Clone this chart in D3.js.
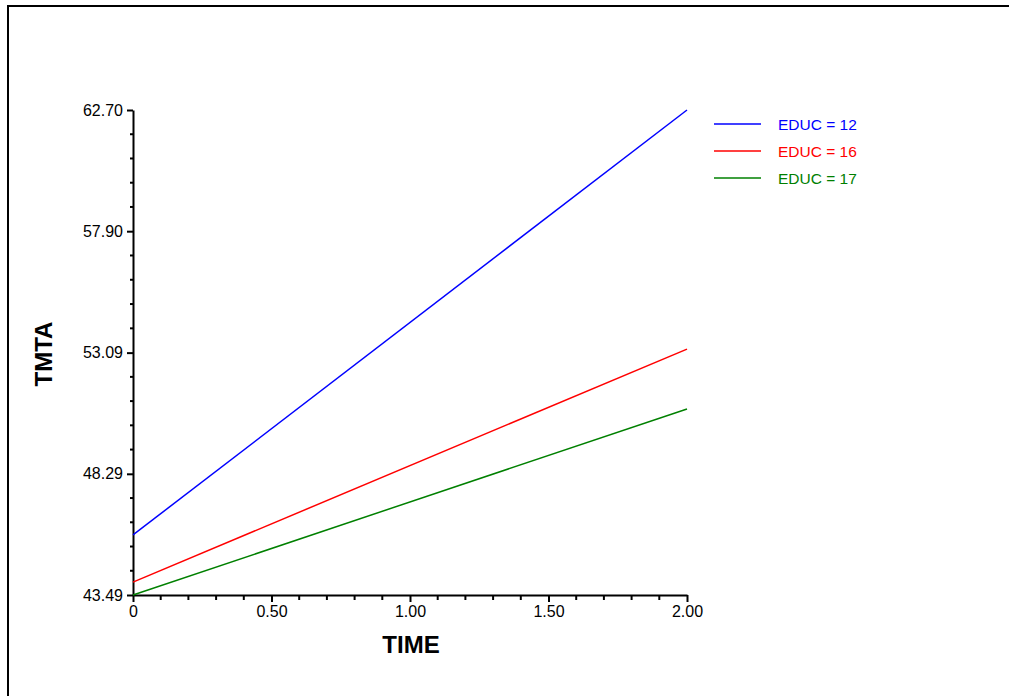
<!DOCTYPE html>
<html>
<head>
<meta charset="utf-8">
<script src="https://cdn.jsdelivr.net/npm/d3@7"></script>
<style>
    body { margin: 0; background: #fff; }
    svg { display: block; font-family: Arial, "Liberation Sans", sans-serif; }
</style>
</head>
<body>
<div id="container"></div>
<script>
// values
const times = [0, 2];
const seriesNames = ["EDUC = 12", "EDUC = 16", "EDUC = 17"];
const seriesColors = ["#0000ff", "#ff0000", "#008000"];
const seriesValues = [
    [45.87, 62.70],
    [44.00, 53.23],
    [43.49, 50.86]
];
const yTickValues = [43.49, 48.29, 53.09, 57.90, 62.70];
const xTickValues = [0, 0.5, 1, 1.5, 2];
const xTickLabels = ["0", "0.50", "1.00", "1.50", "2.00"];

const W = 1009, H = 696;
const svg = d3.select("#container").append("svg")
    .attr("width", W)
    .attr("height", H);

// outer frame, runs off the right and bottom edge
svg.append("rect")
    .attr("x", 8).attr("y", 6)
    .attr("width", W + 20).attr("height", H + 20)
    .attr("fill", "none")
    .attr("stroke", "#000")
    .attr("stroke-width", 2);

const x = d3.scaleLinear().domain([0, 2]).range([133, 687]);
const y = d3.scaleLinear().domain([43.49, 62.70]).range([595, 110]);

// minor ticks: 4 between each pair of majors
function minors(vals) {
    let out = [];
    for (let i = 0; i < vals.length - 1; i++) {
        let step = (vals[i + 1] - vals[i]) / 5;
        for (let k = 1; k < 5; k++) out.push(vals[i] + k * step);
    }
    return out;
}

// y axis
const gy = svg.append("g").attr("transform", `translate(${x(0)},0)`);
gy.call(d3.axisLeft(y).tickValues(yTickValues).tickFormat(d3.format(".2f"))
    .tickSize(6).tickPadding(4).tickSizeOuter(0));
gy.append("g").selectAll("line")
    .data(minors(yTickValues))
    .join("line")
    .attr("x1", -3).attr("x2", 0)
    .attr("y1", d => y(d)).attr("y2", d => y(d))
    .attr("stroke", "#000").attr("stroke-width", 2);

// x axis
const gx = svg.append("g").attr("transform", `translate(0,${y(43.49)})`);
gx.call(d3.axisBottom(x).tickValues(xTickValues).tickFormat((d, i) => xTickLabels[i])
    .tickSize(7).tickPadding(4).tickSizeOuter(0));
gx.append("g").selectAll("line")
    .data(minors(xTickValues))
    .join("line")
    .attr("x1", d => x(d)).attr("x2", d => x(d))
    .attr("y1", 0).attr("y2", 5)
    .attr("stroke", "#000").attr("stroke-width", 2);

svg.selectAll(".domain").attr("stroke", "#000").attr("stroke-width", 2);
svg.selectAll(".tick line").attr("stroke", "#000").attr("stroke-width", 2);
svg.selectAll(".tick text")
    .attr("font-family", "Arial, 'Liberation Sans', sans-serif")
    .attr("font-size", "16px")
    .attr("fill", "#000");

// axis titles
svg.append("text")
    .attr("x", 411).attr("y", 653)
    .attr("text-anchor", "middle")
    .attr("font-size", "24px").attr("font-weight", "bold")
    .text("TIME");
svg.append("text")
    .attr("transform", "translate(52,354) rotate(-90)")
    .attr("text-anchor", "middle")
    .attr("font-size", "24px").attr("font-weight", "bold")
    .text("TMTA");

// series lines
const line = d3.line()
    .x((d, i) => x(times[i]))
    .y(d => y(d));

svg.append("g").selectAll("path")
    .data(seriesValues)
    .join("path")
    .attr("d", line)
    .attr("fill", "none")
    .attr("stroke", (d, i) => seriesColors[i])
    .attr("stroke-width", 1.5);

// legend
const legend = svg.append("g").selectAll("g")
    .data(seriesNames)
    .join("g")
    .attr("transform", (d, i) => `translate(714,${124 + i * 27})`);
legend.append("line")
    .attr("x1", 0).attr("x2", 47)
    .attr("stroke", (d, i) => seriesColors[i])
    .attr("stroke-width", 1.5);
legend.append("text")
    .attr("x", 64).attr("y", 6)
    .attr("font-size", "15.5px")
    .attr("fill", (d, i) => seriesColors[i])
    .text(d => d);
</script>
</body>
</html>
